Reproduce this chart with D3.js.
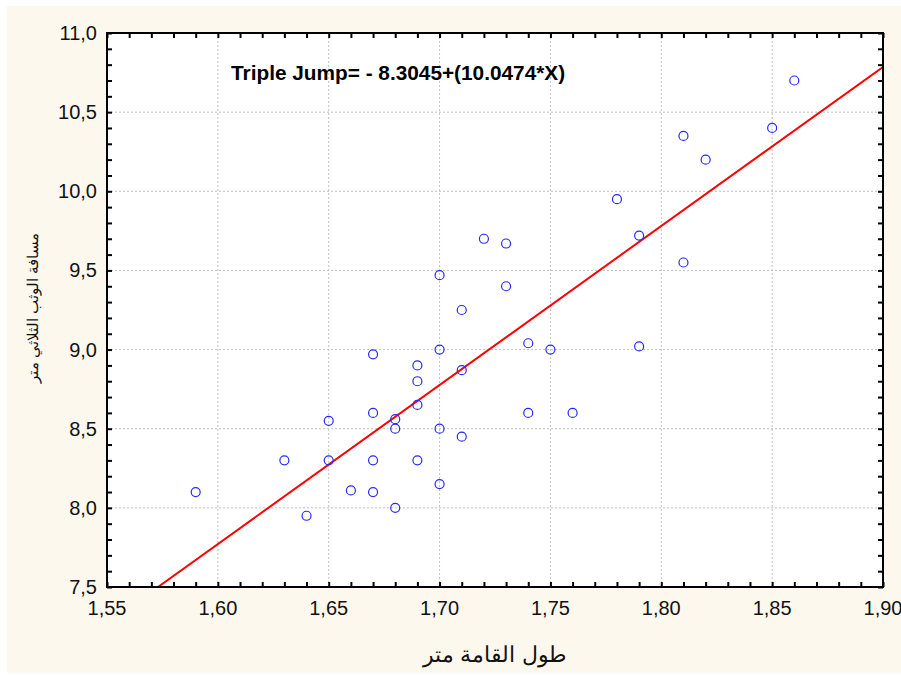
<!DOCTYPE html>
<html>
<head>
<meta charset="utf-8">
<script src="https://cdn.jsdelivr.net/npm/d3@7"></script>
<style>
  body { margin: 0; background: #fff; }
  svg text { font-family: "Liberation Sans", Arial, sans-serif; }
</style>
</head>
<body>
<svg id="chart" width="901" height="675"></svg>
<script>
// heights (m) and triple jump distances (m)
var heights = [1.59, 1.63, 1.64, 1.65, 1.65, 1.66, 1.67, 1.67, 1.67, 1.67,
  1.68, 1.68, 1.68, 1.69, 1.69, 1.69, 1.69, 1.70, 1.70, 1.70, 1.70,
  1.71, 1.71, 1.71, 1.72, 1.73, 1.73, 1.74, 1.74, 1.75, 1.76,
  1.78, 1.79, 1.79, 1.81, 1.81, 1.82, 1.85, 1.86];
var jumps = [8.10, 8.30, 7.95, 8.55, 8.30, 8.11, 8.97, 8.60, 8.30, 8.10,
  8.56, 8.50, 8.00, 8.90, 8.80, 8.65, 8.30, 9.47, 9.00, 8.50, 8.15,
  9.25, 8.87, 8.45, 9.70, 9.67, 9.40, 9.04, 8.60, 9.00, 8.60,
  9.95, 9.72, 9.02, 10.35, 9.55, 10.20, 10.40, 10.70];
var xTicks = [1.55, 1.60, 1.65, 1.70, 1.75, 1.80, 1.85, 1.90];
var yTicks = [7.5, 8.0, 8.5, 9.0, 9.5, 10.0, 10.5, 11.0];
var intercept = -8.3045;
var slope = 10.0474;
var equation = 'Triple Jump= - 8.3045+(10.0474*X)';
var xTitle = 'طول القامة متر';
var yTitle = 'مسافة الوثب الثلاثي متر';

function draw() {
  var svg = d3.select('#chart');
  var pl = 107, pr = 883, pt = 33, pb = 587;

  var x = d3.scaleLinear().domain([1.55, 1.90]).range([pl, pr]);
  var y = d3.scaleLinear().domain([7.5, 11.0]).range([pb, pt]);
  var comma = (f) => (d) => d3.format(f)(d).replace('.', ',');

  svg.append('rect').attr('x', 7).attr('y', 6).attr('width', 894).attr('height', 667)
    .attr('fill', '#fdf8ee');
  svg.append('rect').attr('x', pl).attr('y', pt)
    .attr('width', pr - pl).attr('height', pb - pt).attr('fill', '#fff');

  // grid
  var grid = svg.append('g').attr('stroke', '#c0c0c0').attr('stroke-dasharray', '2,2');
  grid.selectAll('.gx').data(xTicks.slice(1, -1)).enter().append('line')
    .attr('x1', (d) => x(d)).attr('x2', (d) => x(d)).attr('y1', pt).attr('y2', pb);
  grid.selectAll('.gy').data(yTicks.slice(1, -1)).enter().append('line')
    .attr('y1', (d) => y(d)).attr('y2', (d) => y(d)).attr('x1', pl).attr('x2', pr);

  // regression line
  svg.append('clipPath').attr('id', 'clip').append('rect')
    .attr('x', pl).attr('y', pt).attr('width', pr - pl).attr('height', pb - pt);
  var xs = [(7.5 - intercept) / slope, 1.90];
  svg.append('line').attr('clip-path', 'url(#clip)')
    .attr('x1', x(xs[0])).attr('y1', y(intercept + slope * xs[0]))
    .attr('x2', x(xs[1])).attr('y2', y(intercept + slope * xs[1]))
    .attr('stroke', '#ff0000').attr('stroke-width', 2);

  // points
  svg.append('g').selectAll('circle').data(heights).enter().append('circle')
    .attr('cx', (d) => x(d)).attr('cy', (d, i) => y(jumps[i])).attr('r', 4.5)
    .attr('fill', 'none').attr('stroke', '#2828ff').attr('stroke-width', 1.2);

  // axes with inward ticks
  var minorX = d3.range(0, 36).map((i) => 1.55 + i * 0.01);
  var minorY = d3.range(0, 36).map((i) => 7.5 + i * 0.1);
  var bAxis = svg.append('g').attr('transform', `translate(0,${pb})`)
    .call(d3.axisBottom(x).tickValues(minorX).tickSize(-5).tickFormat(''));
  var tAxis = svg.append('g').attr('transform', `translate(0,${pt})`)
    .call(d3.axisTop(x).tickValues(minorX).tickSize(-5).tickFormat(''));
  var lAxis = svg.append('g').attr('transform', `translate(${pl},0)`)
    .call(d3.axisLeft(y).tickValues(minorY).tickSize(-5).tickFormat(''));
  var rAxis = svg.append('g').attr('transform', `translate(${pr},0)`)
    .call(d3.axisRight(y).tickValues(minorY).tickSize(-5).tickFormat(''));
  [bAxis, tAxis, lAxis, rAxis].forEach((a) => {
    a.select('.domain').remove();
    a.selectAll('text').remove();
    a.selectAll('line').attr('stroke', '#000').attr('stroke-width', 2);
  });
  svg.append('rect').attr('x', pl).attr('y', pt)
    .attr('width', pr - pl).attr('height', pb - pt)
    .attr('fill', 'none').attr('stroke', '#000').attr('stroke-width', 2);

  // tick labels
  svg.append('g').selectAll('text').data(xTicks).enter().append('text')
    .attr('x', (d) => x(d)).attr('y', 615).attr('text-anchor', 'middle')
    .attr('font-size', 20).attr('fill', '#111').text(comma('.2f'));
  svg.append('g').selectAll('text').data(yTicks).enter().append('text')
    .attr('x', 97).attr('y', (d) => y(d) + 7).attr('text-anchor', 'end')
    .attr('font-size', 20).attr('fill', '#111').text(comma('.1f'));

  // equation
  svg.append('text').attr('x', 231).attr('y', 80).attr('font-size', 20.8)
    .attr('font-weight', 'bold').attr('fill', '#000').text(equation);

  // titles
  svg.append('text').attr('x', 495).attr('y', 662).attr('text-anchor', 'middle')
    .attr('font-size', 22).attr('fill', '#111').text(xTitle);
  svg.append('text').attr('transform', 'translate(38,308) rotate(-90)')
    .attr('text-anchor', 'middle').attr('font-size', 14.5).attr('fill', '#111').text(yTitle);
}
draw();
</script>
</body>
</html>
